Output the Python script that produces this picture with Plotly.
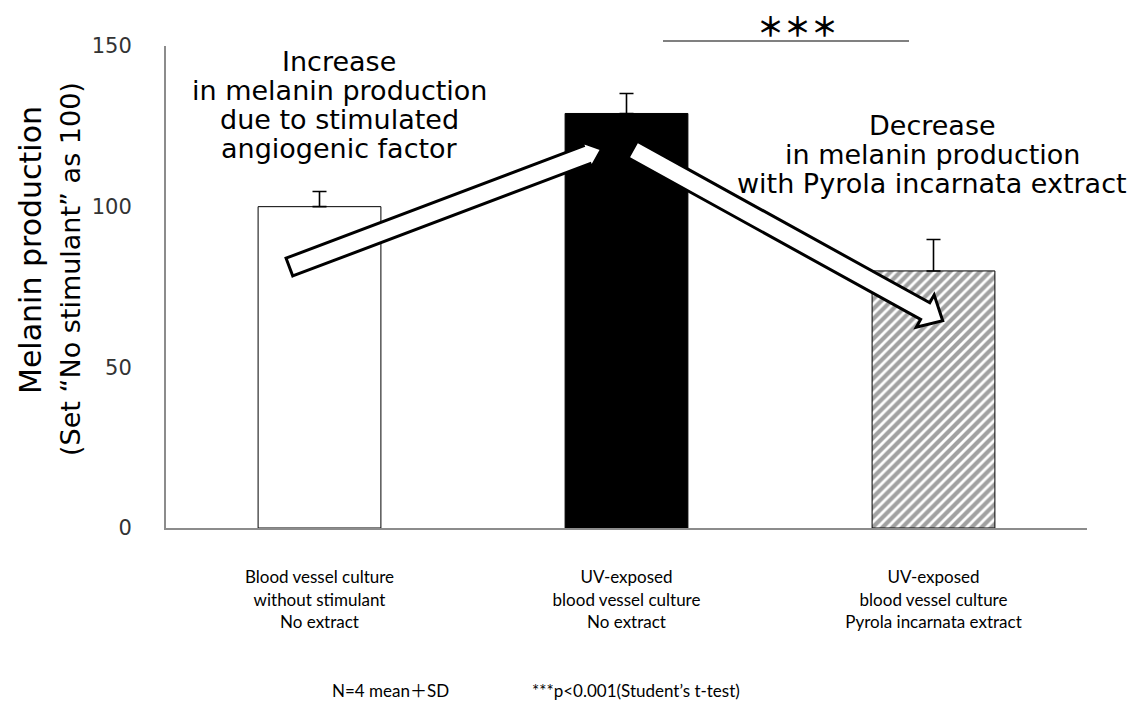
import math
import plotly.graph_objects as go

# ---------------- data ----------------
categories = [
    "Blood vessel culture<br>without stimulant<br>No extract",
    "UV-exposed<br>blood vessel culture<br>No extract",
    "UV-exposed<br>blood vessel culture<br>Pyrola incarnata extract",
]
means = [100, 129, 80]
sd_plus = [4.7, 6.2, 9.8]
bar_colors = ["white", "black", "white"]
bar_patterns = ["", "", "/"]
y_ticks = [0, 50, 100, 150]

increase_lines = ["Increase", "in melanin production", "due to stimulated", "angiogenic factor"]
decrease_lines = ["Decrease", "in melanin production", "with Pyrola incarnata extract"]
y_title_lines = ["Melanin production", "(Set \u201cNo stimulant\u201d as 100)"]
footnote_left = "N=4 mean\uff0bSD"
footnote_right = "***p<0.001(Student\u2019s t-test)"
sig_label = "<b>\uff0a\uff0a\uff0a</b>"

# arrows in data coordinates: (category index, value) tail -> tip
arrows = [
    ((-0.098, 81.2), (0.919, 117.9), 13.5, 16, 9.5),
    ((1.02, 117.8), (2.03, 64.5), 18.5, 20, 9.5),
]

# ---------------- layout geometry ----------------
W, H = 1142, 702
L, R, T, B = 166, 55, 46, 174
PW, PH = W - L - R, H - T - B
YMAX = 150


def px_x(xi):
    return L + (xi + 0.5) * PW / 3


def px_y(v):
    return T + PH - v * PH / YMAX


def to_paper(px, py):
    return (px - L) / PW, (T + PH - py) / PH


fig = go.Figure()
fig.add_trace(go.Bar(
    x=categories, y=means,
    width=0.4,
    marker=dict(color=bar_colors, line=dict(color="black", width=1),
                pattern=dict(shape=bar_patterns, fgcolor="black", bgcolor="white",
                             size=7, solidity=0.6)),
    error_y=dict(type="data", symmetric=False, array=sd_plus, arrayminus=[0, 0, 0],
                 color="black", thickness=1.6, width=7),
    hoverinfo="skip",
))

shapes = []
for (x0, y0), (x1, y1), hh, hl, hw in arrows:
    ax0, ay0 = px_x(x0), px_y(y0)
    ax1, ay1 = px_x(x1), px_y(y1)
    dx, dy = ax1 - ax0, ay1 - ay0
    ln = math.hypot(dx, dy)
    ux, uy = dx / ln, dy / ln
    nx, ny = -uy, ux
    bx, by = ax1 - ux * hl, ay1 - uy * hl
    pts = [
        (ax0 + nx * hw, ay0 + ny * hw),
        (bx + nx * hw, by + ny * hw),
        (bx + nx * hh, by + ny * hh),
        (ax1, ay1),
        (bx - nx * hh, by - ny * hh),
        (bx - nx * hw, by - ny * hw),
        (ax0 - nx * hw, ay0 - ny * hw),
    ]
    pp = [to_paper(*p) for p in pts]
    path = "M " + " L ".join(f"{a:.5f},{b:.5f}" for a, b in pp) + " Z"
    shapes.append(dict(type="path", path=path, xref="paper", yref="paper",
                       fillcolor="white", line=dict(color="black", width=3), layer="above"))

# significance bar
sx0, sy = to_paper(663, 41)
sx1, _ = to_paper(909, 41)
shapes.append(dict(type="line", xref="paper", yref="paper", x0=sx0, x1=sx1, y0=sy, y1=sy,
                   line=dict(color="#808080", width=2)))

annotations = []
for i, t in enumerate(increase_lines):
    xp, yp = to_paper(339, 61 + i * 29.3)
    annotations.append(dict(text=t, x=xp, y=yp, xref="paper", yref="paper", showarrow=False,
                            xanchor="center", yanchor="middle",
                            font=dict(family="DejaVu Sans", size=27, color="black")))
for i, t in enumerate(decrease_lines):
    xp, yp = to_paper(932, 126 + i * 28.7)
    annotations.append(dict(text=t, x=xp, y=yp, xref="paper", yref="paper", showarrow=False,
                            xanchor="center", yanchor="middle",
                            font=dict(family="DejaVu Sans", size=27, color="black")))
for t, cx, cy, fs in [(y_title_lines[0], 30, 250, 30), (y_title_lines[1], 70, 269, 27)]:
    xp, yp = to_paper(cx, cy)
    annotations.append(dict(text=t, x=xp, y=yp, xref="paper", yref="paper", showarrow=False,
                            textangle=-90, xanchor="center", yanchor="middle",
                            font=dict(family="DejaVu Sans", size=fs, color="black")))
xp, yp = to_paper(797, 26)
annotations.append(dict(text=sig_label, x=xp, y=yp, xref="paper", yref="paper", showarrow=False,
                        xanchor="center", yanchor="middle",
                        font=dict(family="Noto Sans CJK JP", size=27, color="black")))
for t, lx in [(footnote_left, 330), (footnote_right, 530)]:
    xp, yp = to_paper(lx, 690)
    annotations.append(dict(text=t, x=xp, y=yp, xref="paper", yref="paper", showarrow=False,
                            xanchor="left", yanchor="middle",
                            font=dict(family="Lato, Noto Sans CJK JP", size=17, color="black")))

fig.update_layout(
    width=W, height=H,
    margin=dict(l=L, r=R, t=T, b=B, pad=0),
    paper_bgcolor="white", plot_bgcolor="white",
    showlegend=False,
    bargap=0.6,
    shapes=shapes,
    annotations=annotations,
    xaxis=dict(range=[-0.5, 2.5], showline=True, linecolor="#8c8c8c", linewidth=2,
               showgrid=False, ticks="", ticklabelstandoff=33,
               tickfont=dict(family="Lato, Liberation Sans", size=17, color="black")),
    yaxis=dict(range=[0, YMAX], tickvals=y_ticks, showline=True, linecolor="#8c8c8c",
               linewidth=2, showgrid=False, zeroline=False, ticks="", ticklabelstandoff=28,
               tickfont=dict(family="DejaVu Sans", size=21, color="#333333")),
)

fig.write_html("out.html", config={"displayModeBar": False},
               post_script="document.body.style.margin='0px';document.body.style.padding='0px';")
